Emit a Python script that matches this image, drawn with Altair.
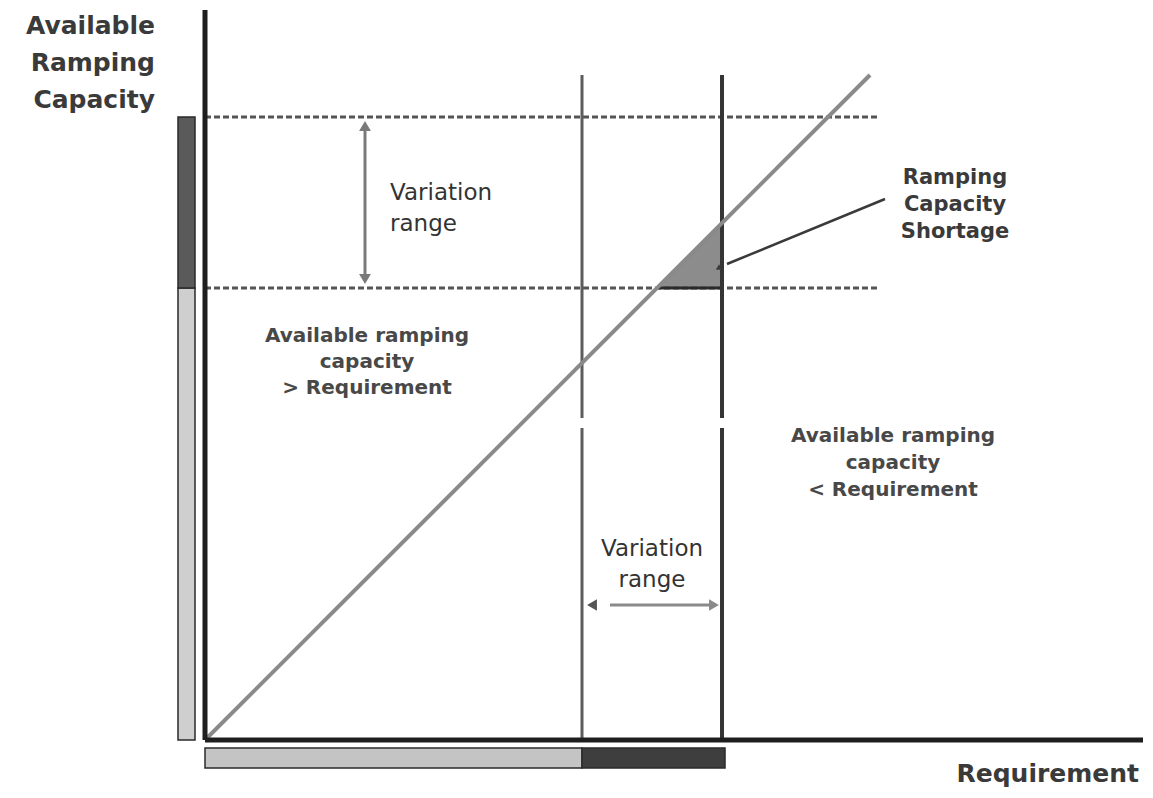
import altair as alt
import pandas as pd

# ---- coordinate frame: origin at the axes corner, units ~ pixels of the diagram ----
X_DOMAIN = [-197, 940]
Y_DOMAIN = [-50, 732]

# main axes
axis_x_end = 938
axis_y_end = 730
# diagonal "available = requirement"
diag_end = 665
# capacity levels (dashed) and requirement levels (vertical)
cap_levels = [623, 452]
dash_x_end = 675
req_levels = [377, 517]
req_top = 665
req_gap = [312, 322]
# left bar (available capacity)
lbar_x = [-27, -10]
lbar_light = [0, 452]
lbar_dark = [452, 623]
# bottom bar (requirement)
bbar_y = [-28, -8]
bbar_light = [0, 377]
bbar_dark = [377, 520]
# shortage triangle
tri_x = [452, 517]
tri_top = [452, 517]
tri_base = [452, 452]
# leader line to "Shortage" label
leader = [(522, 476), (680, 541)]
# variation-range arrows
v_arrow_x = 160
v_arrow_y = [462, 613]
h_arrow_y = 135
h_arrow_x = [405, 510]


def X(f="x"):
    return alt.X(f"{f}:Q", scale=alt.Scale(domain=X_DOMAIN, nice=False, zero=False), axis=None)


def Y(f="y"):
    return alt.Y(f"{f}:Q", scale=alt.Scale(domain=Y_DOMAIN, nice=False, zero=False), axis=None)


def rules(rows, color, width, dash=None, cap="butt"):
    df = pd.DataFrame(rows, columns=["x", "y", "x2", "y2"])
    kw = dict(color=color, strokeWidth=width, strokeCap=cap)
    if dash:
        kw["strokeDash"] = dash
    return alt.Chart(df).mark_rule(**kw).encode(x=X(), y=Y(), x2="x2:Q", y2="y2:Q")


def rects(rows, color, stroke="#2a2a2a"):
    df = pd.DataFrame(rows, columns=["x", "x2", "y", "y2"])
    return alt.Chart(df).mark_rect(color=color, stroke=stroke, strokeWidth=1.5).encode(
        x=X(), x2="x2:Q", y=Y(), y2="y2:Q")


def points(rows, shape, color, size, angle=0):
    df = pd.DataFrame(rows, columns=["x", "y"])
    return alt.Chart(df).mark_point(shape=shape, filled=True, color=color, size=size,
                                    opacity=1, angle=angle).encode(x=X(), y=Y())


def label(x, y, text, size, align, bold=True, color="#3a3a3a", lh=30, italic=False):
    df = pd.DataFrame({"x": [x], "y": [y], "t": [text]})
    kw = dict(fontSize=size, align=align, baseline="alphabetic", lineBreak="\n",
              lineHeight=lh, color=color, font="DejaVu Sans",
              fontWeight="bold" if bold else "normal")
    if italic:
        kw["fontStyle"] = "italic"
    return alt.Chart(df).mark_text(**kw).encode(x=X(), y=Y(), text="t:N")


layers = [
    # bars
    rects([(lbar_x[0], lbar_x[1], lbar_light[0], lbar_light[1])], "#cfcfcf"),
    rects([(lbar_x[0], lbar_x[1], lbar_dark[0], lbar_dark[1])], "#5a5a5a"),
    rects([(bbar_light[0], bbar_light[1], bbar_y[0], bbar_y[1])], "#c4c4c4"),
    rects([(bbar_dark[0], bbar_dark[1], bbar_y[0], bbar_y[1])], "#3e3e3e"),
    # shortage triangle
    alt.Chart(pd.DataFrame({"x": tri_x, "y": tri_top, "y2": tri_base})).mark_area(
        color="#8c8c8c", opacity=1).encode(x=X(), y=Y(), y2="y2:Q"),
    # dashed capacity levels
    rules([(0, c, dash_x_end, c) for c in cap_levels], "#555555", 3, dash=[6, 3]),
    rules([(tri_x[0], tri_base[0], tri_x[1], tri_base[0])], "#2a2a2a", 3),
    # requirement levels
    rules([(req_levels[0], 0, req_levels[0], req_gap[0]),
           (req_levels[0], req_gap[1], req_levels[0], req_top)], "#5c5c5c", 3),
    rules([(req_levels[1], 0, req_levels[1], req_gap[0]),
           (req_levels[1], req_gap[1], req_levels[1], req_top)], "#353535", 4),
    # diagonal
    rules([(0, 0, diag_end, diag_end)], "#8a8a8a", 4),
    # main axes
    rules([(0, 0, 0, axis_y_end)], "#1e1e1e", 5),
    rules([(0, 0, axis_x_end, 0)], "#1e1e1e", 5),
    # leader line
    rules([(leader[0][0], leader[0][1], leader[1][0], leader[1][1])], "#3a3a3a", 2.5),
    points([(514, 473)], "triangle-up", "#3a3a3a", 40),
    # vertical variation arrow
    rules([(v_arrow_x, v_arrow_y[0], v_arrow_x, v_arrow_y[1])], "#7a7a7a", 3),
    points([(v_arrow_x, 614)], "triangle-up", "#7a7a7a", 140),
    points([(v_arrow_x, 461)], "triangle-down", "#7a7a7a", 140),
    # horizontal variation arrow
    rules([(h_arrow_x[0], h_arrow_y, h_arrow_x[1], h_arrow_y)], "#8a8a8a", 3),
    points([(387, h_arrow_y)], "triangle-left", "#555555", 130),
    points([(509, h_arrow_y)], "triangle-right", "#8a8a8a", 130),
    # texts
    label(-50, 706, "Available\nRamping\nCapacity", 25, "right", lh=37),
    label(185, 540, "Variation\nrange", 23, "left", bold=False, color="#333333", lh=31),
    label(750, 556, "Ramping\nCapacity\nShortage", 21, "center", lh=27),
    label(162, 398, "Available ramping\ncapacity\n> Requirement", 20, "center", lh=26,
          color="#484848"),
    label(688, 298, "Available ramping\ncapacity\n< Requirement", 20, "center", lh=27,
          color="#484848"),
    label(447, 184, "Variation\nrange", 23, "center", bold=False, color="#333333", lh=31),
    label(934, -42, "Requirement", 25, "right"),
]

chart = alt.layer(*layers).properties(
    width=1137, height=782, padding=0, autosize="none", background="white"
).configure_view(strokeWidth=0)

chart.save("out.html", embed_options={"renderer": "svg", "actions": False})
